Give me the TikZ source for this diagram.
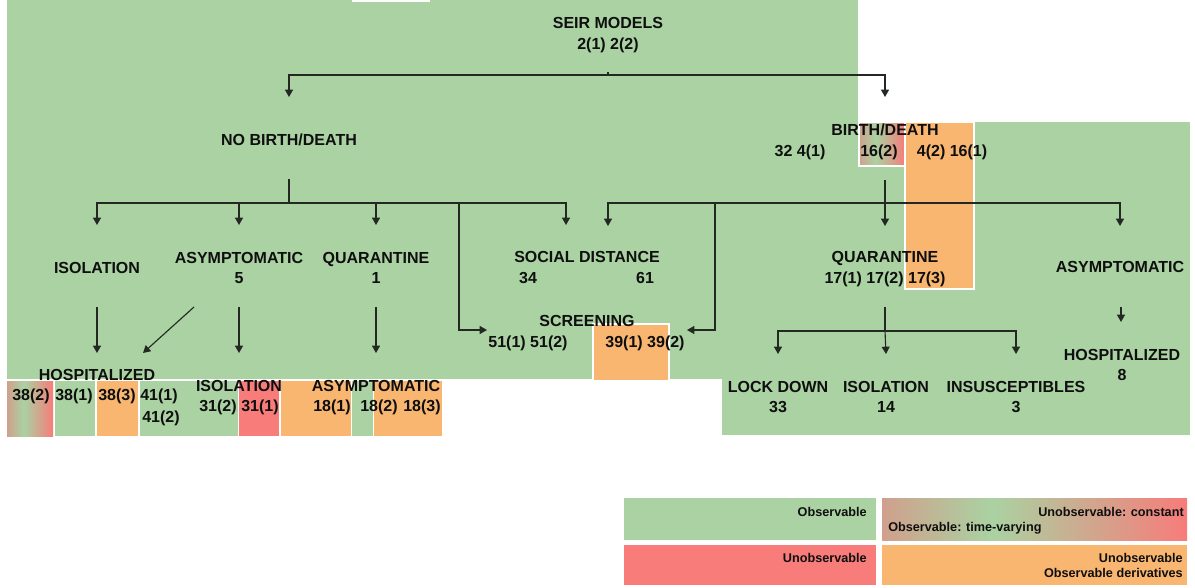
\documentclass[tikz,border=0pt]{standalone}
\usepackage{fontspec}
\setmainfont{Liberation Sans}
\usetikzlibrary{arrows.meta,calc}
\definecolor{grn}{RGB}{170,210,162}
\definecolor{rdc}{RGB}{247,124,122}
\definecolor{org}{RGB}{249,182,113}
\definecolor{tanc}{RGB}{208,160,140}
\definecolor{ink}{RGB}{15,15,15}
\definecolor{lnk}{RGB}{35,40,35}
\pgfdeclarehorizontalshading{obsgrad}{100bp}{color(0bp)=(tanc); color(25bp)=(tanc); color(43bp)=(grn); color(75bp)=(rdc); color(100bp)=(rdc)}
\tikzset{
  lbl/.style={font=\bfseries\fontsize{12}{14}\selectfont, inner sep=0pt, text height=8.6pt, text depth=0pt, text=ink},
  leg/.style={font=\bfseries\fontsize{9.5}{11}\selectfont, inner sep=0pt, text height=6.8pt, text depth=0pt, text=ink},
  conn/.style={draw=lnk, line width=0.85pt},
  arr/.style={conn, -{Triangle[length=5.5pt,width=6pt]}},
  wbox/.style={draw=white, line width=1.1pt},
}
\begin{document}
\begin{tikzpicture}[x=0.75pt,y=-0.75pt]
\useasboundingbox (0,0) rectangle (1195,588);
% backgrounds
\fill[grn] (7,0) rectangle (858,379);
\fill[white] (352,0) rectangle (430,2);
\fill[grn] (858,122) rectangle (1190,435);
\fill[grn] (722,370) rectangle (858,435);
\shade[shading=obsgrad, wbox] (859,122) rectangle (905,166);
\fill[org, wbox] (905,122) rectangle (974,289);
\fill[org, wbox] (593,324) rectangle (669,381);
% bottom-left row of boxes
\shade[shading=obsgrad] (7,381) rectangle (53,436);
\fill[grn] (55,381) rectangle (95,436);
\fill[org] (97,381) rectangle (138,436);
\fill[grn] (140,381) rectangle (238,436);
\fill[rdc] (239,381) rectangle (279,436);
\fill[org] (281,381) rectangle (351,436);
\fill[grn] (352,381) rectangle (373,436);
\fill[org] (374,381) rectangle (442,436);

% labels
\node[lbl] (seir) at (608,23) {SEIR MODELS};
\node[lbl] (seirN) at (608,44) {2(1) 2(2)};
\node[lbl] (nobd) at (289,140) {NO BIRTH/DEATH};
\node[lbl] (bd) at (885,130) {BIRTH/DEATH};
\node[lbl] (bdA) at (800,151) {32 4(1)};
\node[lbl] (bdB) at (879,151) {16(2)};
\node[lbl] (bdC) at (952,151) {4(2) 16(1)};
\node[lbl] (isoL) at (97,268) {ISOLATION};
\node[lbl] (asyL) at (239,258) {ASYMPTOMATIC};
\node[lbl] (asyLN) at (239,278) {5};
\node[lbl] (quaL) at (376,258) {QUARANTINE};
\node[lbl] (quaLN) at (376,278) {1};
\node[lbl] (soc) at (587,257) {SOCIAL DISTANCE};
\node[lbl] (socA) at (528,278) {34};
\node[lbl] (socB) at (645,278) {61};
\node[lbl] (scr) at (587,321) {SCREENING};
\node[lbl] (scrA) at (528,342) {51(1) 51(2)};
\node[lbl] (scrB) at (645,342) {39(1) 39(2)};
\node[lbl] (quaR) at (885,257) {QUARANTINE};
\node[lbl] (quaRN) at (885,278) {17(1) 17(2) 17(3)};
\node[lbl] (asyR) at (1120,267) {ASYMPTOMATIC};
\node[lbl] (hosL) at (97,375) {HOSPITALIZED};
\node[lbl] (hA) at (31,395) {38(2)};
\node[lbl] (hB) at (74,395) {38(1)};
\node[lbl] (hC) at (117,395) {38(3)};
\node[lbl] (hD) at (159,395) {41(1)};
\node[lbl] (hE) at (161,417) {41(2)};
\node[lbl] (iso2) at (239,386) {ISOLATION};
\node[lbl] (iso2A) at (218,406) {31(2)};
\node[lbl] (iso2B) at (260,406) {31(1)};
\node[lbl] (asy2) at (376,386) {ASYMPTOMATIC};
\node[lbl] (asy2A) at (332,406) {18(1)};
\node[lbl] (asy2B) at (379,406) {18(2)};
\node[lbl] (asy2C) at (422,406) {18(3)};
\node[lbl] (lock) at (778,387) {LOCK DOWN};
\node[lbl] (lockN) at (778,407) {33};
\node[lbl] (iso3) at (886,387) {ISOLATION};
\node[lbl] (iso3N) at (886,407) {14};
\node[lbl] (ins) at (1016,387) {INSUSCEPTIBLES};
\node[lbl] (insN) at (1016,407) {3};
\node[lbl] (hosR) at (1122,355) {HOSPITALIZED};
\node[lbl] (hosRN) at (1122,375) {8};

% connector coordinates
\coordinate (jS) at (608,75);
\coordinate (jN) at (289,203);
\coordinate (jB) at (885,203);
\coordinate (jQ) at (885,331);

% top split
\draw[conn] (608,72) -- (jS);
\draw[arr] (jS) -| ($(nobd)+(0,-43)$);
\draw[arr] (jS) -| ($(bd)+(0,-33)$);
% no birth/death
\draw[conn] ($(nobd)+(0,39)$) -- (jN);
\draw[arr] (jN) -| ($(isoL)+(0,-43)$);
\draw[arr] (jN) -| ($(asyL)+(0,-33)$);
\draw[arr] (jN) -| ($(quaL)+(0,-33)$);
\draw[arr] (jN) -| ($(soc)+(-21,-32)$);
\draw[arr] (459,203) |- ($(scrA)+(-41,-12)$);
% birth/death
\draw[conn] ($(bd)+(0,50)$) -- (jB);
\draw[arr] (jB) -| ($(soc)+(21,-31)$);
\draw[arr] (jB) -- ($(quaR)+(0,-31)$);
\draw[arr] (jB) -| ($(asyR)+(0,-41)$);
\draw[arr] (715,203) |- ($(scrB)+(42,-12)$);
% second level to third level (left)
\draw[arr] ($(isoL)+(0,39)$) -- ($(hosL)+(0,-22)$);
\draw[arr] ($(asyL)+(-45,49)$) -- ($(hosL)+(46,-22)$);
\draw[arr] ($(asyLN)+(0,29)$) -- ($(iso2)+(0,-33)$);
\draw[arr] ($(quaLN)+(0,29)$) -- ($(asy2)+(0,-33)$);
% right quarantine
\draw[conn] ($(quaRN)+(0,29)$) -- (jQ);
\draw[arr] (jQ) -| ($(lock)+(0,-33)$);
\draw[arr] (jQ) -- ($(iso3)+(0,-33)$);
\draw[arr] (jQ) -| ($(ins)+(0,-33)$);
% right asymptomatic
\draw[arr] ($(asyR)+(1,40)$) -- ($(hosR)+(-1,-33)$);

% legend
\fill[grn] (624,498) rectangle (876,540);
\shade[shading=obsgrad] (882,498) rectangle (1187,540);
\fill[rdc] (624,545) rectangle (876,585);
\fill[org] (882,545) rectangle (1187,585);
\node[leg, anchor=east] (l1) at (867,512) {Observable};
\node[leg, anchor=east] (l2) at (1184,512) {Unobservable: constant};
\node[leg, anchor=west] (l3) at (888,527) {Observable: time-varying};
\node[leg, anchor=east] (l4) at (867,558) {Unobservable};
\node[leg, anchor=east] (l5) at (1183,558) {Unobservable};
\node[leg, anchor=east] (l6) at (1183,573) {Observable derivatives};
\end{tikzpicture}
\end{document}
